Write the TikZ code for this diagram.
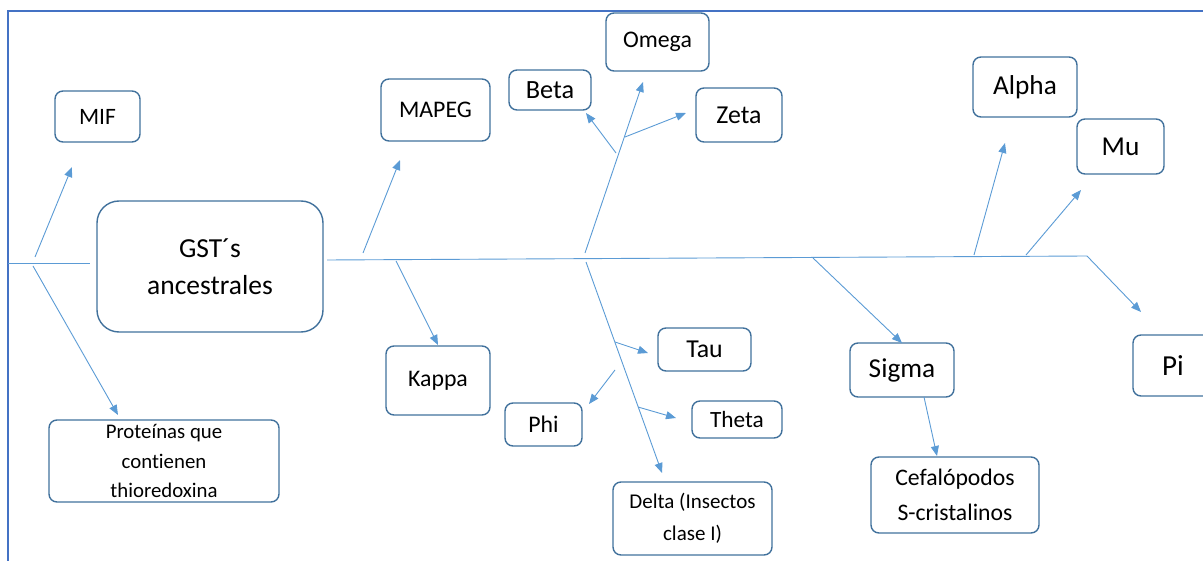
\documentclass[tikz,border=0pt]{standalone}
\usepackage{fontspec}
\setmainfont{Carlito}[Ligatures=NoCommon]
\usetikzlibrary{arrows.meta}
\definecolor{frameblue}{RGB}{68,114,196}
\definecolor{nodeblue}{RGB}{65,113,156}
\definecolor{linkblue}{RGB}{91,155,213}
\tikzset{
  box/.style={draw=nodeblue, line width=1.4pt, rounded corners=8pt, inner sep=0pt, align=center, text=black},
  bigbox/.style={box, rounded corners=22pt},
  link/.style={draw=linkblue, line width=0.9pt},
  conn/.style={link, -{Triangle[length=10pt,width=8pt]}},
  fs/.style={font=\fontsize{#1}{#1}\selectfont}
}
\begin{document}
\begin{tikzpicture}[x=1pt,y=-1pt]
\useasboundingbox (0,0) rectangle (1203,561);
\clip (0,0) rectangle (1203,561);
% frame
\draw[frameblue, line width=2pt] (8,561) -- (8,11) -- (1210,11);

% nodes
\node[box, fs=23.5, minimum width=85pt, minimum height=51pt] (mif) at (97.5,116.5) {MIF};
\node[bigbox, fs=27.5, minimum width=226pt, minimum height=131pt] (gst) at (210,266.5) {GST´s\\[9pt]ancestrales};
\node[box, font=\fontsize{20.8}{29.5}\selectfont, minimum width=230pt, minimum height=82pt] (prot) at (164,461) {Proteínas que\\contienen\\thioredoxina};
\node[box, fs=23.8, minimum width=109pt, minimum height=62pt] (mapeg) at (435.5,110) {MAPEG};
\node[box, fs=26.3, minimum width=82pt, minimum height=40pt] (beta) at (550,90) {Beta};
\node[box, fs=23.8, minimum width=103pt, minimum height=58pt] (omega) at (657.5,42) {Omega};
\node[box, fs=25.8, minimum width=86pt, minimum height=54pt] (zeta) at (739,115) {Zeta};
\node[box, fs=23.8, minimum width=104pt, minimum height=69pt] (kappa) at (438,380.5) {Kappa};
\node[box, fs=23.8, minimum width=77pt, minimum height=43pt] (phi) at (543.5,424.5) {Phi};
\node[box, fs=25.8, minimum width=93pt, minimum height=43pt] (tau) at (704.5,349.5) {Tau};
\node[box, fs=23.3, minimum width=90pt, minimum height=37pt] (theta) at (737,419.5) {Theta};
\node[box, font=\fontsize{21}{32}\selectfont, minimum width=159pt, minimum height=73pt] (delta) at (692.5,518.5) {Delta (Insectos\\clase I)};
\node[box, fs=27.3, minimum width=104pt, minimum height=60pt] (alpha) at (1025,87) {Alpha};
\node[box, fs=27.3, minimum width=87pt, minimum height=55pt] (mu) at (1120.5,146.5) {Mu};
\node[box, fs=27.3, minimum width=104pt, minimum height=54pt] (sigma) at (902,370) {Sigma};
\node[box, font=\fontsize{23.7}{35}\selectfont, minimum width=168pt, minimum height=76pt] (cef) at (955,495) {Cefalópodos\\S-cristalinos};
\node[box, fs=29, minimum width=80pt, minimum height=61pt] (pi) at (1173,365.5) {Pi};

% spine coordinates
\coordinate (s0) at (8,263);
\coordinate (s1) at (90,263);
\coordinate (s2) at (327,260);
\coordinate (s3) at (1087,256);

% branch coordinates
\coordinate (bmif) at (35,257);
\coordinate (tmif) at (72,167);
\coordinate (bprot) at (33,266);
\coordinate (tprot) at (118,415);
\coordinate (bmapeg) at (363,253);
\coordinate (tmapeg) at (400,160);
\coordinate (bkappa) at (396,261);
\coordinate (tkappa) at (438,345);
\coordinate (bomega) at (585,253);
\coordinate (tomega) at (643,82);
\coordinate (bbeta) at (616,153);
\coordinate (tbeta) at (586,113);
\coordinate (bzeta) at (625,137);
\coordinate (tzeta) at (686,113);
\coordinate (bdelta) at (586,262);
\coordinate (tdelta) at (662,473);
\coordinate (btau) at (615,342);
\coordinate (ttau) at (648,353);
\coordinate (bphi) at (615,370);
\coordinate (tphi) at (589,404);
\coordinate (btheta) at (638,407);
\coordinate (ttheta) at (676,418);
\coordinate (bsigma) at (813,258);
\coordinate (tsigma) at (902,343);
\coordinate (bcef) at (924,397);
\coordinate (tcef) at (937,456);
\coordinate (balpha) at (974,255);
\coordinate (talpha) at (1005,143);
\coordinate (bmu) at (1026,255);
\coordinate (tmu) at (1081,190);
\coordinate (tpi) at (1141,312);

% spine
\draw[link] (s0) -- (s1);
\draw[link] (s2) -- (s3);

% branches
\draw[conn] (bmif) -- (tmif);
\draw[conn] (bprot) -- (tprot);
\draw[conn] (bmapeg) -- (tmapeg);
\draw[conn] (bkappa) -- (tkappa);
\draw[conn] (bomega) -- (tomega);
\draw[conn] (bbeta) -- (tbeta);
\draw[conn] (bzeta) -- (tzeta);
\draw[conn] (bdelta) -- (tdelta);
\draw[conn] (btau) -- (ttau);
\draw[conn] (bphi) -- (tphi);
\draw[conn] (btheta) -- (ttheta);
\draw[conn] (bsigma) -- (tsigma);
\draw[conn] (bcef) -- (tcef);
\draw[conn] (balpha) -- (talpha);
\draw[conn] (bmu) -- (tmu);
\draw[conn] (s3) -- (tpi);
\end{tikzpicture}
\end{document}
